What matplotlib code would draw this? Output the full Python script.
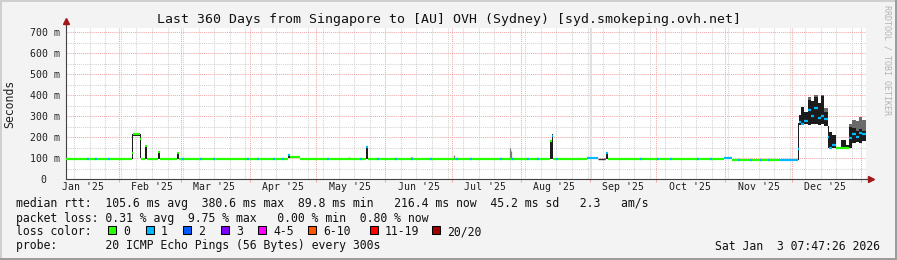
import datetime as dt
import numpy as np
import matplotlib
matplotlib.use('Agg')
import matplotlib.pyplot as plt
from matplotlib.patches import Rectangle
from matplotlib.transforms import ScaledTranslation

W, H = 897, 260
mono = 'DejaVu Sans Mono'

# x values are days counted from 2025-01-01 00:00
t0 = dt.datetime(2025, 1, 1)
x_start, x_end = 7.32, 367.32

# median rtt (ms) as steps, with smoke range and loss class per step
seg_start = [7.3, 36.8, 37.4, 40.4, 41.0, 42.8, 43.7, 48.9, 49.7, 57.2, 58.1,
             107.1, 108.2, 112.4, 142.4, 143.1, 225.2, 225.8, 226.5, 241.8,
             246.9, 249.9, 250.4, 251.0, 303.5, 306.9, 328.7, 336.5, 337.1,
             338.0, 339.5, 341.0, 342.5, 344.0, 345.5, 347.0, 348.5, 350.0,
             350.7, 352.2, 353.7, 356.0, 358.2, 359.7, 361.2, 362.7, 364.2, 365.7]
seg_median = [96, 125, 213, 189, 96, 155, 96, 130, 96, 122, 96,
              114, 103, 96, 152, 96, 180, 205, 96, 101,
              95, 96, 122, 96, 98, 92, 92, 141, 270,
              262, 275, 330, 300, 340, 290, 300, 285, 200,
              150, 160, 146, 150, 148, 195, 215, 200, 220, 216]
seg_lo = [96, 96, 205, 100, 96, 96, 96, 96, 96, 96, 96,
          100, 101, 96, 96, 96, 96, 96, 96, 100,
          93, 96, 96, 96, 97, 91, 91, 92, 257,
          257, 260, 258, 260, 262, 258, 260, 255, 146,
          146, 146, 144, 146, 146, 150, 170, 175, 172, 180]
seg_hi = [96, 213, 215, 213, 96, 158, 96, 132, 96, 127, 96,
          118, 105, 96, 158, 96, 182, 214, 96, 102,
          97, 96, 127, 96, 99, 93, 93, 265, 305,
          344, 320, 376, 370, 392, 360, 395, 320, 255,
          225, 210, 150, 186, 160, 249, 243, 230, 240, 230]
seg_loss = [0, 0, 0, 0, 0, 0, 0, 0, 0, 0, 0,
            1, 0, 0, 1, 0, 0, 1, 0, 1,
            -1, 0, 1, 0, 1, 0, 1, 1, 1,
            1, 1, 1, 1, 1, 1, 1, 1, 1,
            1, 1, 0, 0, 0, 1, 1, 1, 1, 1]

# short stretches with 1 lost ping on the baseline
speck_day = [16.8, 20.4, 26.2, 59.5, 67.6, 73.5, 88.8, 93.3, 100.5, 104.5,
             124.8, 139.6, 147.3, 155.4, 162.6, 171.1, 182.8, 189.1, 202.6,
             208.0, 214.8, 219.3, 227.8, 265.6, 273.3, 279.1, 291.3, 297.1,
             309.7, 315.1, 319.6, 323.2]

# thin smoke spikes
spike_day = [134.7, 159.0, 162.6, 163.2, 181.9, 207.1, 207.5]
spike_hi = [104, 102, 106, 106, 114, 149, 135]

# light smoke on top of the dark smoke in December
haze_day = [341.0, 344.0, 347.0, 348.5, 359.7, 361.2, 362.7, 364.2, 365.7]
haze_lo = [376, 392, 395, 320, 249, 243, 230, 240, 230]
haze_hi = [392, 400, 400, 340, 262, 281, 275, 295, 280]

unknown_span = (242.9, 244.1)

loss_labels = ['0', '1', '2', '3', '4-5', '6-10', '11-19', '20/20']
loss_colors = ['#26ff00', '#00b8ff', '#0059ff', '#7e00ff',
               '#ff00ff', '#ff5500', '#ff0000', '#a10000']

y_ticks = [0, 100, 200, 300, 400, 500, 600, 700]

legend_lines = [
    "median rtt:  105.6 ms avg  380.6 ms max  89.8 ms min   216.4 ms now  45.2 ms sd   2.3   am/s",
    "packet loss: 0.31 % avg  9.75 % max   0.00 % min  0.80 % now",
    "loss color:",
    "probe:       20 ICMP Echo Pings (56 Bytes) every 300s",
]

fig = plt.figure(figsize=(W / 100, H / 100), dpi=100, facecolor='#f3f3f3')
ax = fig.add_axes([66 / W, (H - 179) / H, 800 / W, 151 / H])
ax.set_facecolor('white')

seg_end = seg_start[1:] + [x_end]
starts = np.array(seg_start)
ends = np.array(seg_end)
med = np.array(seg_median, dtype=float)
lo = np.array(seg_lo, dtype=float)
hi = np.array(seg_hi, dtype=float)
loss = np.array(seg_loss)

# unknown data
ax.axvspan(*unknown_span, color='#e0e0e0', lw=0, zorder=1)

# smoke
tall = hi - lo > 3
ax.bar(starts[tall], (hi - lo)[tall], width=(ends - starts)[tall], bottom=lo[tall],
       align='edge', color='#1c1c1c', lw=0, zorder=2)
ax.bar(haze_day, np.array(haze_hi) - np.array(haze_lo), width=1.5, bottom=haze_lo,
       align='edge', color='#6a6a6a', lw=0, zorder=2)
base_idx = np.searchsorted(starts, spike_day, side='right') - 1
ax.vlines(spike_day, med[base_idx], spike_hi, color='#7a7a7a', lw=0.9, zorder=2)

# median line coloured by loss
shown = loss >= 0
ax.hlines(med[shown], starts[shown], ends[shown],
          colors=[loss_colors[k] for k in loss[shown]], lw=1.6, zorder=3)
ax.hlines(med[~shown], starts[~shown], ends[~shown], colors='#303030', lw=1.0, zorder=3)
speck_idx = np.searchsorted(starts, speck_day, side='right') - 1
ax.hlines(med[speck_idx], speck_day, np.array(speck_day) + 0.7,
          colors=loss_colors[1], lw=1.6, zorder=3)

ax.set_xlim(x_start, x_end)
ax.set_ylim(0, 720)

# grid: months in red, weeks (sundays) in grey, 100 ms red, 50 ms grey
month_dates = [dt.datetime(2025 + (m // 12), m % 12 + 1, 1) for m in range(0, 13)]
month_days = [(d - t0).total_seconds() / 86400 for d in month_dates]
sundays = np.arange(11, x_end, 7)
ax.set_xticks(month_days[1:])
ax.set_xticks(sundays, minor=True)
ax.set_yticks(y_ticks)
ax.set_yticks(np.arange(50, 720, 100), minor=True)
ax.set_xticklabels([])
ax.set_yticklabels([f'{v} m' if v else '0' for v in y_ticks])
ax.grid(which='major', color='#f0a8a8', lw=0.75, ls=(0, (1, 1)))
ax.grid(which='minor', color='#d2d2d2', lw=0.75, ls=(0, (1, 1)))
ax.set_axisbelow(True)
ax.tick_params(axis='x', which='major', length=2.2, width=0.75, color='#f0a8a8')
ax.tick_params(axis='x', which='minor', length=0)
ax.tick_params(axis='y', which='both', length=0, pad=4.3)
for lab in ax.get_yticklabels():
    lab.set_fontfamily(mono)
    lab.set_fontsize(7.1)
    lab.set_color('#202020')
ax.get_yticklabels()[0].set_transform(
    ax.get_yticklabels()[0].get_transform() + ScaledTranslation(-0.14, 0, fig.dpi_scale_trans))

for d, day in zip(month_dates[:12], month_days[:12]):
    ax.text(day + 15, -8.3 / 151, d.strftime("%b '%y"), transform=ax.get_xaxis_transform(),
            ha='center', va='center', family=mono, fontsize=7.1, color='#202020')

for side in ['top', 'right']:
    ax.spines[side].set_visible(False)
for side in ['left', 'bottom']:
    ax.spines[side].set_color('#404040')
    ax.spines[side].set_linewidth(0.8)
ax.plot([0, 0], [1, 1.04], transform=ax.transAxes, color='#404040', lw=0.8, clip_on=False)
ax.plot([1, 1.004], [0, 0], transform=ax.transAxes, color='#404040', lw=0.8, clip_on=False)
ax.plot([0], [1.044], marker='^', ms=4.5, color='#a01818', transform=ax.transAxes, clip_on=False)
ax.plot([1.006], [0], marker='>', ms=4.5, color='#a01818', transform=ax.transAxes, clip_on=False)

# texts
fig.text(448.5 / W, 1 - 19 / H,
         'Last 360 Days from Singapore to [AU] OVH (Sydney) [syd.smokeping.ovh.net]',
         ha='center', va='center', family=mono, fontsize=9.5, color='#111111')
fig.text(10 / W, 1 - 103.5 / H, 'Seconds', rotation=90, ha='center', va='center',
         family=mono, fontsize=8.3, color='#202020')
fig.text(887 / W, 1 - 5 / H, 'RRDTOOL / TOBI OETIKER', rotation=270, ha='center', va='top',
         family=mono, fontsize=6, color='#b4b4b4')

line_y = [204, 218.3, 231.7, 246]
for txt, y in zip(legend_lines, line_y):
    fig.text(16 / W, 1 - y / H, txt, ha='left', va='center', family=mono,
             fontsize=8.3, color='#111111')
fig.text(880 / W, 1 - 246 / H, 'Sat Jan  3 07:47:26 2026', ha='right', va='center',
         family=mono, fontsize=8.3, color='#111111')

box_px = [108, 146, 183, 221, 258, 308, 370, 432]
for bx, lab, col in zip(box_px, loss_labels, loss_colors):
    fig.add_artist(Rectangle((bx / W, 1 - 234 / H), 8 / W, 8 / H, facecolor=col,
                             edgecolor='black', lw=0.75, transform=fig.transFigure))
    fig.text((bx + 15) / W, 1 - 231.7 / H, lab, ha='left', va='center', family=mono,
             fontsize=8.3, color='#111111')

# image frame
fig.add_artist(Rectangle((0, 1 - 2 / H), 1, 2 / H, color='#cfcfcf', lw=0, transform=fig.transFigure))
fig.add_artist(Rectangle((0, 0), 2 / W, 1, color='#cfcfcf', lw=0, transform=fig.transFigure))
fig.add_artist(Rectangle((0, 0), 1, 2 / H, color='#9c9c9c', lw=0, transform=fig.transFigure))
fig.add_artist(Rectangle((1 - 2 / W, 0), 2 / W, 1, color='#9c9c9c', lw=0, transform=fig.transFigure))

fig.savefig('out.png', dpi=100, facecolor=fig.get_facecolor())
